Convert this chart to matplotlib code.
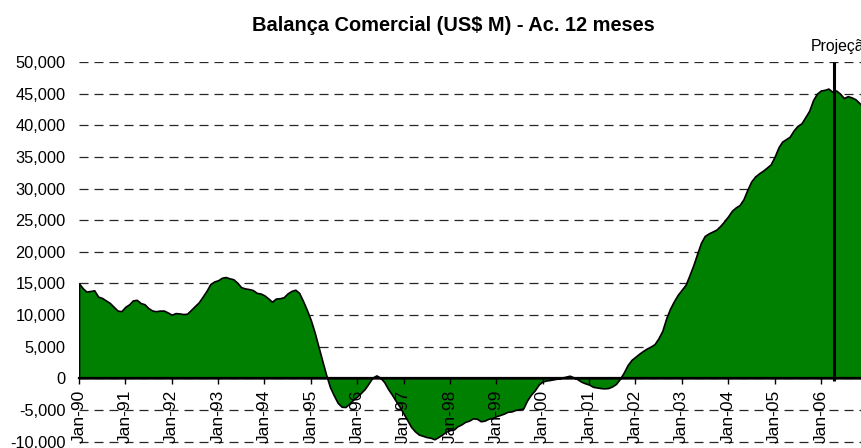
import matplotlib
matplotlib.use("Agg")
import matplotlib.pyplot as plt
from matplotlib.ticker import FuncFormatter
import pandas as pd


START = "1990-01-01"

# trade balance, 12-month accumulated (US$ million), one value per month from Jan-90
BALANCE = [
    # 1990
    15000, 14200, 13700, 13800, 13900, 12900, 12700, 12300, 11900, 11300, 10700, 10600,
    # 1991
    11300, 11700, 12300, 12400, 11900, 11700, 11100, 10700, 10600, 10700, 10700, 10400,
    # 1992
    10050, 10300, 10250, 10150, 10200, 10800, 11400, 12000, 12900, 13800, 14900, 15300,
    # 1993
    15500, 15900, 16000, 15800, 15650, 15100, 14400, 14200, 14100, 13950, 13500, 13400,
    # 1994
    13100, 12600, 12100, 12600, 12650, 12800, 13400, 13800, 14000, 13500, 12200, 10800,
    # 1995
    9200, 7200, 5100, 2800, 600, -1400, -2700, -3900, -4500, -4550, -4000, -3400,
    # 1996
    -2900, -2300, -1700, -800, 100, 450, 100, -600, -1700, -2600, -3600, -4500,
    # 1997
    -5600, -6700, -7700, -8400, -8900, -9100, -9300, -9400, -9650, -9300, -8900, -8450,
    # 1998
    -8200, -8100, -7600, -7300, -6900, -6700, -6350, -6400, -6800, -6700, -6400, -6300,
    # 1999
    -6000, -5800, -5600, -5300, -5250, -5000, -4900, -4800, -3500, -2600, -1900, -1000,
    # 2000
    -500, -350, -270, -150, -50, 100, 250, 400, 150, -150, -550, -800,
    # 2001
    -1000, -1350, -1450, -1550, -1600, -1550, -1300, -900, -100, 900, 2100, 2900,
    # 2002
    3400, 3900, 4300, 4700, 5000, 5400, 6300, 7500, 9500, 11000, 12200, 13200,
    # 2003
    14000, 14800, 16200, 17800, 19600, 21400, 22500, 22900, 23200, 23500, 24100, 24800,
    # 2004
    25600, 26500, 27000, 27400, 28300, 29800, 31100, 31900, 32400, 32800, 33300, 33800,
    # 2005
    35000, 36500, 37400, 37800, 38200, 39200, 39900, 40300, 41300, 42300, 44000, 45000,
    # 2006
    45500, 45600, 45800, 45300, 45500, 45000, 44300, 44600, 44400, 44100, 43500, 42800,
]

TICK_LABELS = ["Jan-90", "Jan-91", "Jan-92", "Jan-93", "Jan-94", "Jan-95",
               "Jan-96", "Jan-97", "Jan-98", "Jan-99", "Jan-00", "Jan-01",
               "Jan-02", "Jan-03", "Jan-04", "Jan-05", "Jan-06"]
Y_TICKS = list(range(-10000, 50001, 5000))
PROJECTION_DATE = "2006-04-16"
X_END = "2006-11-21"
Y_MIN = -11027


def main():
    plt.rcParams["font.family"] = ["Liberation Sans", "DejaVu Sans"]
    plt.rcParams["lines.scale_dashes"] = False

    dates = pd.date_range(START, periods=len(BALANCE), freq="MS")
    tick_dates = pd.to_datetime(TICK_LABELS, format="%b-%y")

    fig = plt.figure(figsize=(8.62, 4.48), dpi=100)
    ax = fig.add_axes([79 / 862, 0, 783 / 862, 386 / 448])

    ax.fill_between(dates, 0, BALANCE, facecolor="#008000", edgecolor="black",
                    linewidth=1.2, zorder=2)
    ax.vlines(pd.Timestamp(PROJECTION_DATE), -500, Y_TICKS[-1], color="black",
              linewidth=2.2, zorder=4)

    ax.set_xlim(dates[0], pd.Timestamp(X_END))
    ax.set_ylim(Y_MIN, Y_TICKS[-1])

    ax.set_yticks(Y_TICKS)
    ax.yaxis.set_major_formatter(FuncFormatter(lambda v, _: f"{v:,.0f}"))
    ax.set_xticks(tick_dates)
    ax.set_xticklabels(TICK_LABELS)

    # dashed grid behind the area, but the date labels sit on top of it
    ax.yaxis.grid(True, color="#262626", linewidth=0.9, linestyle=(0, (6.5, 4.3)))
    ax.xaxis.grid(False)
    ax.yaxis.set_zorder(0.5)
    ax.xaxis.set_zorder(5)

    for side in ("left", "right", "top"):
        ax.spines[side].set_visible(False)
    ax.spines["bottom"].set_position(("data", 0))
    ax.spines["bottom"].set_linewidth(1.6)
    ax.spines["bottom"].set_zorder(3)

    ax.tick_params(axis="x", direction="out", length=4.3, width=1.0, pad=4,
                   labelsize=12.5, labelrotation=90, colors="black")
    ax.tick_params(axis="y", length=0, pad=9.6, labelsize=11.8, colors="black")

    fig.text(453 / 862, 1 - 30.7 / 448, "Balança Comercial (US$ M) - Ac. 12 meses",
             ha="center", va="baseline", fontsize=14.4, fontweight="bold")
    fig.text(810.7 / 862, 1 - 50.7 / 448, "Projeção", ha="left", va="baseline",
             fontsize=11.4)

    fig.savefig("out.png", dpi=100)
    plt.close(fig)


if __name__ == "__main__":
    main()
